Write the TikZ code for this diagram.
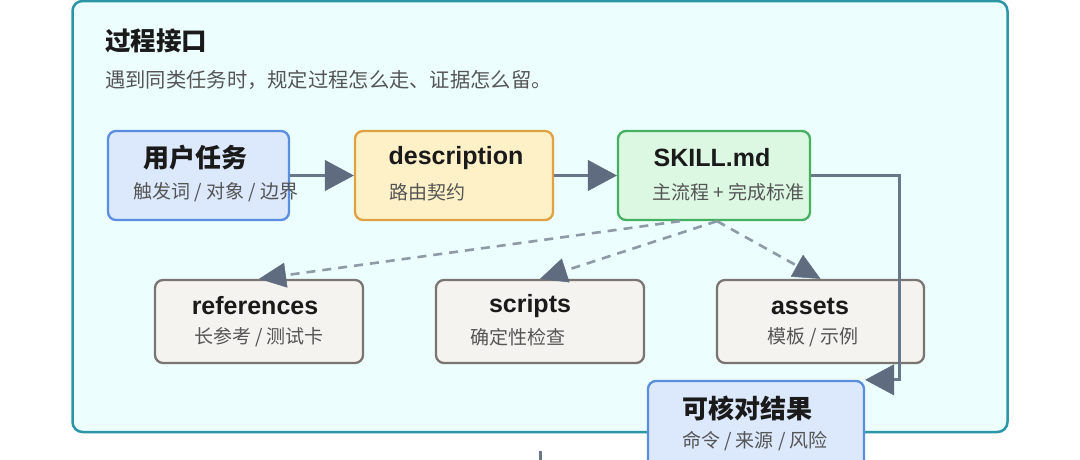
\documentclass[tikz,border=0pt]{standalone}
\usepackage{fontspec}
\setmainfont{Liberation Sans}
\newfontfamily\cjk{Noto Sans CJK SC}
\usetikzlibrary{arrows.meta,calc}
\definecolor{frameC}{HTML}{2A96A6}
\definecolor{frameF}{HTML}{ECFEFE}
\definecolor{blueC}{HTML}{5A8FE0}
\definecolor{blueF}{HTML}{DCE8FC}
\definecolor{amberC}{HTML}{E0A142}
\definecolor{amberF}{HTML}{FEF1C8}
\definecolor{greenC}{HTML}{45B160}
\definecolor{greenF}{HTML}{DCF8E2}
\definecolor{stoneC}{HTML}{7A7571}
\definecolor{stoneF}{HTML}{F5F3F0}
\definecolor{lineC}{HTML}{68778A}
\definecolor{dashC}{HTML}{8E9AA6}
\definecolor{headC}{HTML}{5F6C80}
\definecolor{txtC}{HTML}{1A1A1A}
\definecolor{subC}{HTML}{555555}
\begin{document}
\begin{tikzpicture}[x=1pt,y=-1pt,
  boxbase/.style={draw, rounded corners=8pt, line width=2.3pt, inner sep=0pt, minimum height=89pt},
  bluebox/.style={boxbase, draw=blueC, fill=blueF},
  amberbox/.style={boxbase, draw=amberC, fill=amberF},
  greenbox/.style={boxbase, draw=greenC, fill=greenF},
  stonebox/.style={boxbase, draw=stoneC, fill=stoneF, minimum height=83pt},
  cjktitle/.style={inner sep=0pt, text=txtC, font=\cjk\bfseries\fontsize{26}{30}\selectfont},
  lattitle/.style={inner sep=0pt, text=txtC, font=\bfseries\fontsize{25}{29}\selectfont},
  subtxt/.style={inner sep=0pt, text=subC, font=\cjk\fontsize{19}{22}\selectfont},
  solidarrow/.style={draw=lineC, line width=3pt, -{Triangle[length=29pt,width=31pt,color=headC,fill=headC,line width=0.5pt]}},
  dasharrow/.style={draw=dashC, line width=2.6pt, dash pattern=on 9pt off 7pt, -{Triangle[length=27pt,width=25pt,color=headC,fill=headC,line width=0.5pt]}}
]
\useasboundingbox (0,0) rectangle (1080,459);
\clip (0,0) rectangle (1080,459);
\fill[white] (0,0) rectangle (1080,459);
% outer frame
\node[draw=frameC, fill=frameF, line width=2.5pt, rounded corners=10pt, minimum width=935pt, minimum height=431pt, inner sep=0pt] (frame) at (540,216.5) {};
\node[cjktitle, anchor=west, font=\cjk\bfseries\fontsize{25.5}{29}\selectfont] (htitle) at (105,41) {过程接口};
\node[subtxt, anchor=west, font=\cjk\fontsize{20.3}{24}\selectfont, text=subC] (hsub) at (105,80) {遇到同类任务时，规定过程怎么走、证据怎么留。};
% row 1 boxes
\node[bluebox, minimum width=181pt] (user) at (198.5,175.5) {};
\node[amberbox, minimum width=198pt] (desc) at (454,175.5) {};
\node[greenbox, minimum width=192pt] (skill) at (714,175.5) {};
% row 2 boxes
\node[stonebox, minimum width=208pt] (refs) at (259,321.5) {};
\node[stonebox, minimum width=208pt] (scripts) at (540,321.5) {};
\node[stonebox, minimum width=207pt] (assets) at (820.5,321.5) {};
% texts
\node[cjktitle] (usert) at (195,158) {用户任务};
\node[subtxt, anchor=west] (users) at (133,192) {触发词 / 对象 / 边界};
\node[lattitle] (desct) at (456,158) {description};
\node[subtxt, anchor=west] (descs) at (389,192) {路由契约};
\node[lattitle] (skillt) at (712,158) {SKILL.md};
\node[subtxt, anchor=west] (skills) at (652,192) {主流程 + 完成标准};
\node[lattitle] (refst) at (255,306) {references};
\node[subtxt] (refss) at (259,337) {长参考 / 测试卡};
\node[lattitle] (scriptst) at (530,306) {scripts};
\node[subtxt] (scriptss) at (518,337) {确定性检查};
\node[lattitle] (assetst) at (810,306) {assets};
\node[subtxt] (assetss) at (813,337) {模板 / 示例};
% connectors
\draw[solidarrow] (user.east) -- (desc.west);
\draw[solidarrow] (desc.east) -- (skill.west);
\coordinate (sA) at ($(skill.south)+(-34,0)$);
\coordinate (sB) at ($(skill.south)+(3,0)$);
\draw[dasharrow] (sA) -- (refs.north);
\draw[dasharrow] (sB) -- (scripts.north);
\draw[dasharrow] (sB) -- (assets.north);
% result box (overlaps frame)
\node[bluebox, minimum width=216pt] (result) at (756,425.5) {};
\node[cjktitle] (resultt) at (747,408) {可核对结果};
\node[subtxt] (results) at (755,441) {命令 / 来源 / 风险};
\draw[solidarrow, line join=miter] (skill.east) -- ++(88,0) |- (result.north east);
% continuation line below
\coordinate (nxtA) at (540,451);
\coordinate (nxtB) at (540,470);
\draw[draw=lineC, line width=3pt] (nxtA) -- (nxtB);
\end{tikzpicture}
\end{document}
